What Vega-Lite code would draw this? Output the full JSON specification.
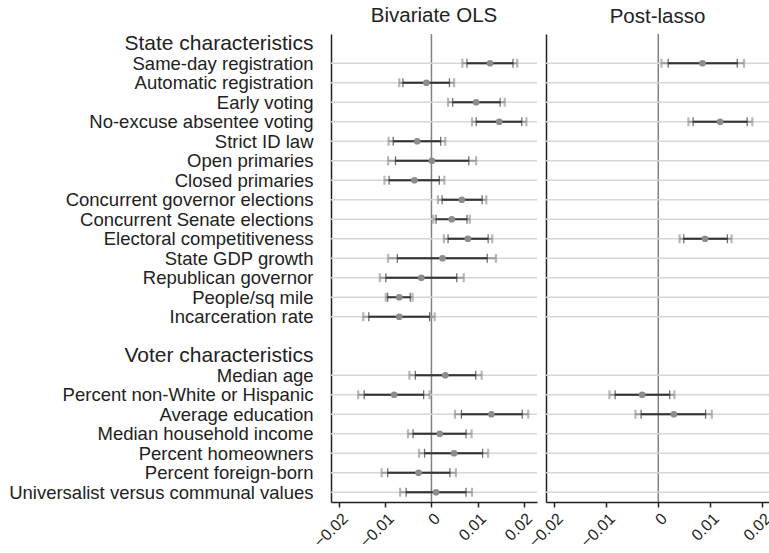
{
  "$schema": "https://vega.github.io/schema/vega-lite/v6.json",
  "padding": {"left": 8, "top": 6, "right": 0, "bottom": 0},
  "spacing": 9,
  "bounds": "flush",
  "config": {
    "font": "Liberation Sans",
    "view": {"stroke": null},
    "title": {"fontSize": 20.5, "fontWeight": "normal", "color": "#222", "offset": 6},
    "axis": {"grid": false, "domainColor": "#222", "domainWidth": 1.5, "labelColor": "#222", "tickColor": "#222", "minExtent": 0},
    "axisX": {"labelFontSize": 16, "labelAngle": -45, "tickSize": 5, "tickWidth": 1.5, "labelPadding": 3}
  },
  "resolve": {"scale": {"x": "independent"}},
  "datasets": {
    "ols": [
      {"var": "Same-day registration", "est": 0.0127, "lo95": 0.0067, "hi95": 0.0186, "lo90": 0.0077, "hi90": 0.0177},
      {"var": "Automatic registration", "est": -0.0011, "lo95": -0.0070, "hi95": 0.0049, "lo90": -0.0062, "hi90": 0.0039},
      {"var": "Early voting", "est": 0.0097, "lo95": 0.0036, "hi95": 0.0159, "lo90": 0.0046, "hi90": 0.0149},
      {"var": "No-excuse absentee voting", "est": 0.0147, "lo95": 0.0088, "hi95": 0.0206, "lo90": 0.0097, "hi90": 0.0196},
      {"var": "Strict ID law", "est": -0.0031, "lo95": -0.0093, "hi95": 0.0030, "lo90": -0.0083, "hi90": 0.0020},
      {"var": "Open primaries", "est": 0.0001, "lo95": -0.0094, "hi95": 0.0097, "lo90": -0.0078, "hi90": 0.0081},
      {"var": "Closed primaries", "est": -0.0037, "lo95": -0.0102, "hi95": 0.0028, "lo90": -0.0092, "hi90": 0.0017},
      {"var": "Concurrent governor elections", "est": 0.0066, "lo95": 0.0014, "hi95": 0.0119, "lo90": 0.0023, "hi90": 0.0110},
      {"var": "Concurrent Senate elections", "est": 0.0044, "lo95": 0.0004, "hi95": 0.0083, "lo90": 0.0010, "hi90": 0.0077},
      {"var": "Electoral competitiveness", "est": 0.0079, "lo95": 0.0027, "hi95": 0.0132, "lo90": 0.0036, "hi90": 0.0123},
      {"var": "State GDP growth", "est": 0.0024, "lo95": -0.0094, "hi95": 0.0140, "lo90": -0.0074, "hi90": 0.0121},
      {"var": "Republican governor", "est": -0.0022, "lo95": -0.0112, "hi95": 0.0070, "lo90": -0.0099, "hi90": 0.0055},
      {"var": "People/sq mile", "est": -0.0070, "lo95": -0.0099, "hi95": -0.0041, "lo90": -0.0095, "hi90": -0.0046},
      {"var": "Incarceration rate", "est": -0.0070, "lo95": -0.0148, "hi95": 0.0007, "lo90": -0.0136, "hi90": -0.0004},
      {"var": "Median age", "est": 0.0030, "lo95": -0.0048, "hi95": 0.0109, "lo90": -0.0035, "hi90": 0.0096},
      {"var": "Percent non-White or Hispanic", "est": -0.0081, "lo95": -0.0159, "hi95": -0.0004, "lo90": -0.0146, "hi90": -0.0017},
      {"var": "Average education", "est": 0.0130, "lo95": 0.0051, "hi95": 0.0210, "lo90": 0.0065, "hi90": 0.0197},
      {"var": "Median household income", "est": 0.0018, "lo95": -0.0051, "hi95": 0.0087, "lo90": -0.0040, "hi90": 0.0075},
      {"var": "Percent homeowners", "est": 0.0049, "lo95": -0.0027, "hi95": 0.0123, "lo90": -0.0015, "hi90": 0.0111},
      {"var": "Percent foreign-born", "est": -0.0028, "lo95": -0.0108, "hi95": 0.0053, "lo90": -0.0095, "hi90": 0.0040},
      {"var": "Universalist versus communal values", "est": 0.0010, "lo95": -0.0068, "hi95": 0.0088, "lo90": -0.0055, "hi90": 0.0075}
    ],
    "lasso": [
      {"var": "Same-day registration", "est": 0.0085, "lo95": 0.0006, "hi95": 0.0165, "lo90": 0.0019, "hi90": 0.0152},
      {"var": "Automatic registration"},
      {"var": "Early voting"},
      {"var": "No-excuse absentee voting", "est": 0.0119, "lo95": 0.0058, "hi95": 0.0181, "lo90": 0.0067, "hi90": 0.0171},
      {"var": "Strict ID law"},
      {"var": "Open primaries"},
      {"var": "Closed primaries"},
      {"var": "Concurrent governor elections"},
      {"var": "Concurrent Senate elections"},
      {"var": "Electoral competitiveness", "est": 0.0090, "lo95": 0.0041, "hi95": 0.0141, "lo90": 0.0049, "hi90": 0.0133},
      {"var": "State GDP growth"},
      {"var": "Republican governor"},
      {"var": "People/sq mile"},
      {"var": "Incarceration rate"},
      {"var": "Median age"},
      {"var": "Percent non-White or Hispanic", "est": -0.0031, "lo95": -0.0094, "hi95": 0.0031, "lo90": -0.0083, "hi90": 0.0022},
      {"var": "Average education", "est": 0.0030, "lo95": -0.0044, "hi95": 0.0103, "lo90": -0.0033, "hi90": 0.0091},
      {"var": "Median household income"},
      {"var": "Percent homeowners"},
      {"var": "Percent foreign-born"},
      {"var": "Universalist versus communal values"}
    ]
  },
  "hconcat": [
    {
      "width": 206,
      "height": 468,
      "title": "Bivariate OLS",
      "layer": [
        {
          "data": {"values": [{"zero": 0}]},
          "mark": {"type": "rule", "color": "#808080", "strokeWidth": 1.5},
          "encoding": {
            "x": {"field": "zero", "type": "quantitative", "title": null,
                  "scale": {"domain": [-0.0218, 0.0229], "nice": false, "zero": false},
                  "axis": {"values": [-0.02, -0.01, 0, 0.01, 0.02], "format": ".2~f"}}
          }
        },
        {
          "data": {"name": "ols"},
          "encoding": {
            "y": {
              "field": "var", "type": "nominal", "title": null,
              "scale": {"type": "point", "padding": 0.5, "domain": ["State characteristics", "Same-day registration", "Automatic registration", "Early voting", "No-excuse absentee voting", "Strict ID law", "Open primaries", "Closed primaries", "Concurrent governor elections", "Concurrent Senate elections", "Electoral competitiveness", "State GDP growth", "Republican governor", "People/sq mile", "Incarceration rate", " ", "Voter characteristics", "Median age", "Percent non-White or Hispanic", "Average education", "Median household income", "Percent homeowners", "Percent foreign-born", "Universalist versus communal values"]},
              "axis": {
                "ticks": false, "labelPadding": 18, "labelLimit": 400,
                "labelFontSize": {"condition": {"test": "datum.value === 'State characteristics' || datum.value === 'Voter characteristics'", "value": 21}, "value": 18.5}
              }
            }
          },
          "layer": [
            {"mark": {"type": "rule", "color": "#d6d6d6", "strokeWidth": 1.5}},
            {
              "transform": [{"filter": "isValid(datum.est)"}],
              "mark": {"type": "rule", "color": "#9a9a9a", "strokeWidth": 2},
              "encoding": {"x": {"field": "lo95", "type": "quantitative", "title": null}, "x2": {"field": "hi95"}}
            },
            {
              "transform": [{"filter": "isValid(datum.est)"}],
              "mark": {"type": "rule", "color": "#333333", "strokeWidth": 1.8},
              "encoding": {"x": {"field": "lo90", "type": "quantitative", "title": null}, "x2": {"field": "hi90"}}
            },
            {
              "transform": [{"filter": "isValid(datum.est)"}, {"fold": ["lo95", "hi95"], "as": ["end", "val"]}],
              "mark": {"type": "tick", "color": "#9a9a9a", "size": 9, "thickness": 2.2},
              "encoding": {"x": {"field": "val", "type": "quantitative", "title": null}}
            },
            {
              "transform": [{"filter": "isValid(datum.est)"}, {"fold": ["lo90", "hi90"], "as": ["end", "val"]}],
              "mark": {"type": "tick", "color": "#333333", "size": 9, "thickness": 1.3},
              "encoding": {"x": {"field": "val", "type": "quantitative", "title": null}}
            },
            {
              "transform": [{"filter": "isValid(datum.est)"}],
              "mark": {"type": "circle", "color": "#8c8c8c", "opacity": 1, "size": 45},
              "encoding": {"x": {"field": "est", "type": "quantitative", "title": null}}
            }
          ]
        }
      ]
    },
    {
      "width": 223,
      "height": 468,
      "title": "Post-lasso",
      "layer": [
        {
          "data": {"values": [{"zero": 0}]},
          "mark": {"type": "rule", "color": "#808080", "strokeWidth": 1.5},
          "encoding": {
            "x": {"field": "zero", "type": "quantitative", "title": null,
                  "scale": {"domain": [-0.0216, 0.0213], "nice": false, "zero": false},
                  "axis": {"values": [-0.02, -0.01, 0, 0.01, 0.02], "format": ".2~f"}}
          }
        },
        {
          "data": {"name": "lasso"},
          "encoding": {
            "y": {
              "field": "var", "type": "nominal", "title": null,
              "scale": {"type": "point", "padding": 0.5, "domain": ["State characteristics", "Same-day registration", "Automatic registration", "Early voting", "No-excuse absentee voting", "Strict ID law", "Open primaries", "Closed primaries", "Concurrent governor elections", "Concurrent Senate elections", "Electoral competitiveness", "State GDP growth", "Republican governor", "People/sq mile", "Incarceration rate", " ", "Voter characteristics", "Median age", "Percent non-White or Hispanic", "Average education", "Median household income", "Percent homeowners", "Percent foreign-born", "Universalist versus communal values"]},
              "axis": {"ticks": false, "labels": false}
            }
          },
          "layer": [
            {"mark": {"type": "rule", "color": "#d6d6d6", "strokeWidth": 1.5}},
            {
              "transform": [{"filter": "isValid(datum.est)"}],
              "mark": {"type": "rule", "color": "#9a9a9a", "strokeWidth": 2},
              "encoding": {"x": {"field": "lo95", "type": "quantitative", "title": null}, "x2": {"field": "hi95"}}
            },
            {
              "transform": [{"filter": "isValid(datum.est)"}],
              "mark": {"type": "rule", "color": "#333333", "strokeWidth": 1.8},
              "encoding": {"x": {"field": "lo90", "type": "quantitative", "title": null}, "x2": {"field": "hi90"}}
            },
            {
              "transform": [{"filter": "isValid(datum.est)"}, {"fold": ["lo95", "hi95"], "as": ["end", "val"]}],
              "mark": {"type": "tick", "color": "#9a9a9a", "size": 9, "thickness": 2.2},
              "encoding": {"x": {"field": "val", "type": "quantitative", "title": null}}
            },
            {
              "transform": [{"filter": "isValid(datum.est)"}, {"fold": ["lo90", "hi90"], "as": ["end", "val"]}],
              "mark": {"type": "tick", "color": "#333333", "size": 9, "thickness": 1.3},
              "encoding": {"x": {"field": "val", "type": "quantitative", "title": null}}
            },
            {
              "transform": [{"filter": "isValid(datum.est)"}],
              "mark": {"type": "circle", "color": "#8c8c8c", "opacity": 1, "size": 45},
              "encoding": {"x": {"field": "est", "type": "quantitative", "title": null}}
            }
          ]
        }
      ]
    }
  ]
}
